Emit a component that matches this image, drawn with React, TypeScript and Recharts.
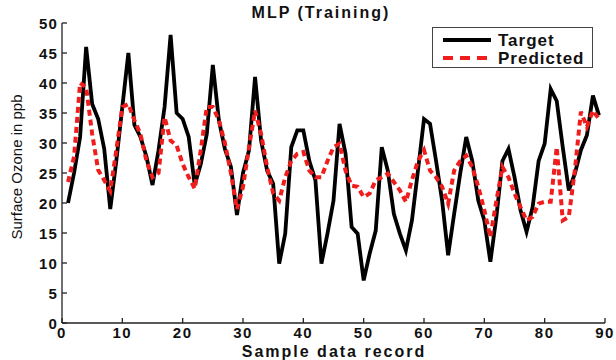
import { LineChart, Line, XAxis, YAxis } from "recharts";

// sample index 1..89
const records = [
  1, 2, 3, 4, 5, 6, 7, 8, 9, 10, 11, 12, 13, 14, 15, 16, 17, 18, 19, 20, 21, 22, 23, 24, 25, 26, 27, 28, 29, 30,
  31, 32, 33, 34, 35, 36, 37, 38, 39, 40, 41, 42, 43, 44, 45, 46, 47, 48, 49, 50, 51, 52, 53, 54, 55, 56, 57, 58, 59, 60,
  61, 62, 63, 64, 65, 66, 67, 68, 69, 70, 71, 72, 73, 74, 75, 76, 77, 78, 79, 80, 81, 82, 83, 84, 85, 86, 87, 88, 89,
];

const target = [
  20, 25, 31, 46, 36.5, 34, 29, 19, 27, 36, 45, 33, 31, 27.7, 23, 28.8, 36, 48, 35, 34, 31, 23, 26.5, 31.5, 43, 33.8, 29, 26, 18, 25,
  28.8, 41, 30.4, 25.4, 23.2, 9.9, 14.9, 29.3, 32.1, 32.1, 27, 23.8, 9.9, 14.9, 20.4, 33.2, 28.2, 16, 14.9, 7.1, 11.6, 15.4, 29.3, 25.4, 18.2, 14.9, 12.1, 17.1, 25.4, 34,
  33.2, 27, 20.4, 11.3, 18.2, 24.9, 31, 27, 20.4, 17.1, 10.2, 17.7, 27, 29, 24.3, 18.8, 15.2, 19.3, 27, 29.9, 39, 37, 29.3, 22.1, 24.9, 28.8, 31.3, 37.9, 34.6,
];

const predicted = [
  23.5, 27.7, 40, 39.3, 31.5, 25.5, 23.8, 22, 28.8, 36, 36.5, 33.8, 31.5, 27, 24.3, 25, 34.3, 30.4, 29.6, 26.5, 24.3, 22.4, 28.8, 36, 36, 33.8, 30, 25, 19, 22.7,
  29.3, 35.4, 31.5, 26, 21.6, 20.4, 24.3, 27, 28.2, 28.5, 25.4, 24.3, 24.3, 27, 29.3, 29.9, 25.4, 22.9, 22.7, 21, 21.6, 23.8, 24.3, 24.9, 23.5, 22.1, 20.2, 23.8, 27, 28.8,
  25.4, 24.3, 22.7, 19.9, 25.4, 27, 27.9, 26, 22.7, 18.8, 14.3, 20.4, 26, 24.3, 21.6, 19.3, 17.1, 17.7, 19.9, 20.2, 20.2, 29.3, 17.1, 17.7, 25.4, 35.2, 32.7, 35.4, 34,
];

const xTicks = [0, 10, 20, 30, 40, 50, 60, 70, 80, 90];
const yTicks = [0, 5, 10, 15, 20, 25, 30, 35, 40, 45, 50];

const FONT = "'Liberation Sans', Arial, Helvetica, sans-serif";
const RED = "#f01d1d";

// the original figure is a bit stretched sideways, so bold text gets some extra spacing
function XTick({ x, y, payload }: any) {
  return (
    <text x={x} y={y + 12} textAnchor="middle" fontSize={15} fontWeight={700} letterSpacing={1.5} fill="#111" fontFamily={FONT}>
      {payload.value}
    </text>
  );
}

function YTick({ x, y, payload }: any) {
  return (
    <text x={x + 1} y={y + 5.5} textAnchor="end" fontSize={15} fontWeight={700} letterSpacing={1.2} fill="#111" fontFamily={FONT}>
      {payload.value}
    </text>
  );
}

export default function App() {
  const data = records.map((r, i) => ({ r, target: target[i], predicted: predicted[i] }));

  return (
    <div style={{ position: "absolute", left: 0, top: 0, width: 616, height: 360, background: "#fff", fontFamily: FONT }}>
      <LineChart width={616} height={360} data={data} margin={{ top: 23, right: 11, left: 0, bottom: 0 }}>
        <XAxis
          dataKey="r"
          type="number"
          domain={[0, 90]}
          ticks={xTicks}
          interval={0}
          height={37}
          tick={<XTick />}
          tickSize={-5}
          tickMargin={8}
          stroke="#222"
          strokeWidth={1.3}
        />
        <XAxis
          xAxisId="top"
          orientation="top"
          dataKey="r"
          type="number"
          domain={[0, 90]}
          ticks={xTicks}
          height={0}
          tick={false}
          tickSize={-5}
          stroke="#222"
          strokeWidth={1.3}
        />
        <YAxis
          type="number"
          domain={[0, 50]}
          ticks={yTicks}
          interval={0}
          width={62}
          tick={<YTick />}
          tickSize={-5}
          tickMargin={10}
          stroke="#222"
          strokeWidth={1.3}
        />
        <YAxis
          yAxisId="right"
          orientation="right"
          type="number"
          domain={[0, 50]}
          ticks={yTicks}
          width={0}
          tick={false}
          tickSize={-5}
          stroke="#222"
          strokeWidth={1.3}
        />
        <Line
          type="linear"
          dataKey="target"
          stroke="#000"
          strokeWidth={3.8}
          dot={false}
          isAnimationActive={false}
        />
        <Line
          type="linear"
          dataKey="predicted"
          stroke={RED}
          strokeWidth={4}
          strokeDasharray="6 4"
          dot={false}
          isAnimationActive={false}
        />
      </LineChart>

      {/* title */}
      <div style={{ position: "absolute", left: 171, width: 300, top: 4, textAlign: "center", fontSize: 16, fontWeight: 700, letterSpacing: 2, color: "#111" }}>
        MLP (Training)
      </div>

      {/* x label */}
      <div style={{ position: "absolute", left: 184, width: 300, top: 343, lineHeight: "17px", textAlign: "center", fontSize: 16, fontWeight: 700, letterSpacing: 2, color: "#111" }}>
        Sample data record
      </div>

      {/* y label */}
      <div
        style={{
          position: "absolute",
          left: 16,
          top: 167,
          transform: "translate(-50%, -50%) rotate(-90deg)",
          whiteSpace: "nowrap",
          fontSize: 15,
          color: "#111",
        }}
      >
        Surface Ozone in ppb
      </div>

      {/* legend */}
      <div
        style={{
          position: "absolute",
          left: 432,
          top: 27,
          width: 161,
          height: 41,
          border: "1px solid #444",
          background: "#fff",
          boxSizing: "border-box",
        }}
      >
        <svg width={161} height={41} style={{ position: "absolute", left: 0, top: 0 }}>
          <line x1={10} x2={58} y1={12} y2={12} stroke="#000" strokeWidth={3.8} />
          <line x1={10} x2={58} y1={30} y2={30} stroke={RED} strokeWidth={4} strokeDasharray="10 7" />
          <text x={65} y={18} fontSize={17} fontWeight={700} letterSpacing={1} fill="#111" fontFamily={FONT}>Target</text>
          <text x={65} y={36} fontSize={17} fontWeight={700} letterSpacing={1} fill="#111" fontFamily={FONT}>Predicted</text>
        </svg>
      </div>
    </div>
  );
}
